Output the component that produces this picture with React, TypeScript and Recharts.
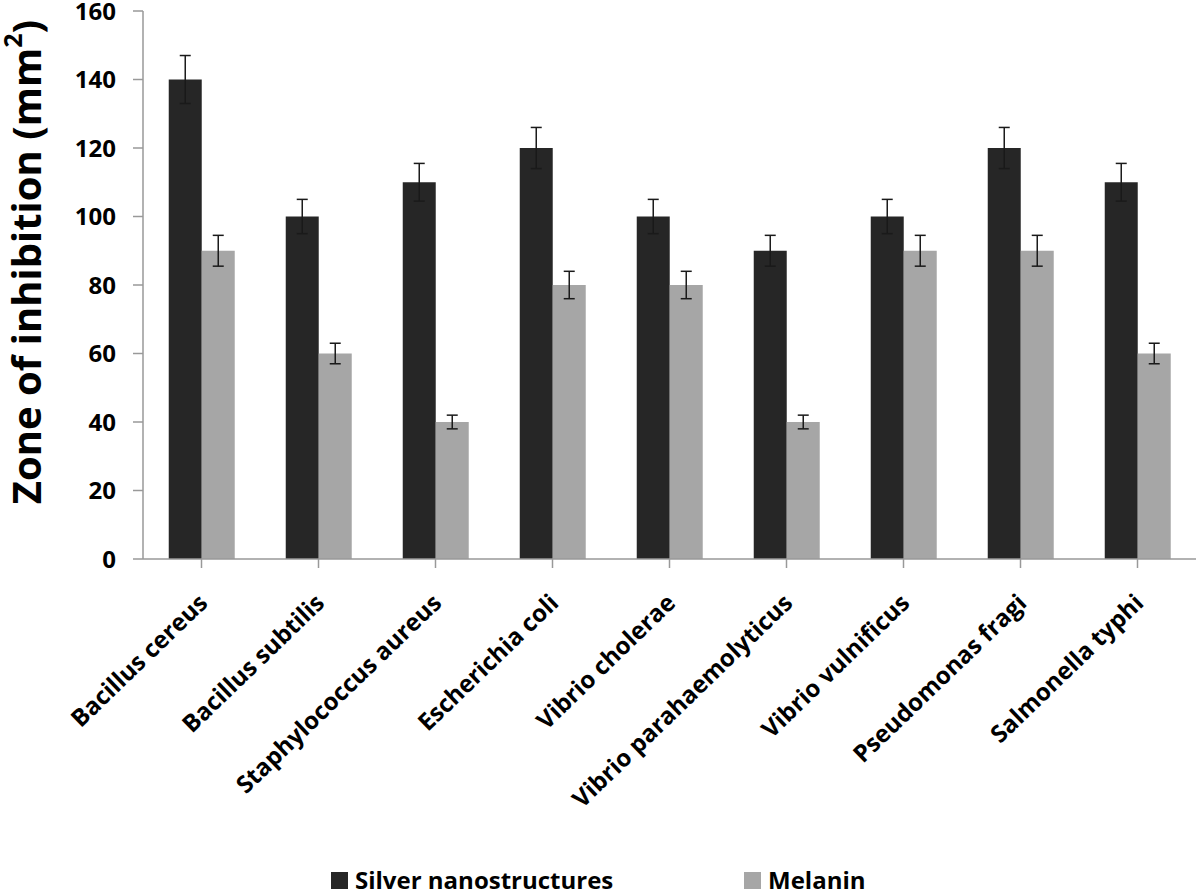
import React from 'react';
import { BarChart, Bar, XAxis, YAxis, Legend, ErrorBar, Label } from 'recharts';

const organisms = [
  'Bacillus cereus',
  'Bacillus subtilis',
  'Staphylococcus aureus',
  'Escherichia coli',
  'Vibrio cholerae',
  'Vibrio parahaemolyticus',
  'Vibrio vulnificus',
  'Pseudomonas fragi',
  'Salmonella typhi',
];
const silverValues = [140, 100, 110, 120, 100, 90, 100, 120, 110];
const silverErrors = [7, 5, 5.5, 6, 5, 4.5, 5, 6, 5.5];
const melaninValues = [90, 60, 40, 80, 80, 40, 90, 90, 60];
const melaninErrors = [4.5, 3, 2, 4, 4, 2, 4.5, 4.5, 3];
const yTicks = [0, 20, 40, 60, 80, 100, 120, 140, 160];

const data = organisms.map((name, i) => ({
  name,
  silver: silverValues[i],
  silverErr: silverErrors[i],
  melanin: melaninValues[i],
  melaninErr: melaninErrors[i],
}));

const FONT = '"Open Sans", sans-serif';
const DARK = '#262626';
const LIGHT = '#a6a6a6';

const AngledTick = (props: any) => {
  const { x, y, payload } = props;
  return (
    <g transform={`translate(${x + 3},${y + 30})`}>
      <text
        transform="rotate(-44)"
        textAnchor="end"
        dominantBaseline="middle"
        fontFamily={FONT}
        fontWeight={700}
        fontSize={24}
        fill="#000"
      >
        {payload.value}
      </text>
    </g>
  );
};

const YTitle = () => (
  <text
    transform="translate(30,262) rotate(-90)"
    textAnchor="middle"
    dominantBaseline="middle"
    fontFamily={FONT}
    fontWeight={700}
    fontSize={40}
    fill="#000"
  >
    Zone of inhibition (mm
    <tspan fontSize={25} dy={-15}>2</tspan>
    <tspan dy={15}>)</tspan>
  </text>
);

const LegendBox = () => (
  <div
    style={{
      display: 'flex',
      justifyContent: 'flex-start',
      fontFamily: FONT,
      fontWeight: 700,
      fontSize: 24,
      lineHeight: '26px',
      color: '#000',
      paddingLeft: 331,
      paddingTop: 20,
    }}
  >
    <div style={{ display: 'flex', alignItems: 'center', width: 413 }}>
      <span style={{ width: 17, height: 17, background: DARK, marginRight: 7 }} />
      Silver nanostructures
    </div>
    <div style={{ display: 'flex', alignItems: 'center' }}>
      <span style={{ width: 17, height: 17, background: LIGHT, marginRight: 7 }} />
      Melanin
    </div>
  </div>
);

export default function App() {
  return (
    <div style={{ position: 'absolute', left: 0, top: 0, background: '#fff' }}>
      <BarChart
        width={1200}
        height={894}
        data={data}
        margin={{ top: 11, right: 4, bottom: 0, left: 0 }}
        barGap={0}
        barCategoryGap="22%"
      >
        <XAxis
          dataKey="name"
          interval={0}
          height={288}
          tick={<AngledTick />}
          tickSize={9}
          axisLine={{ stroke: '#999', strokeWidth: 1.5 }}
          tickLine={{ stroke: '#999', strokeWidth: 1.5 }}
        />
        <YAxis
          width={143}
          domain={[0, 160]}
          ticks={yTicks}
          interval={0}
          tickSize={10}
          tickMargin={17}
          axisLine={{ stroke: '#999', strokeWidth: 1.5 }}
          tickLine={{ stroke: '#999', strokeWidth: 1.5 }}
          tick={{ fontFamily: FONT, fontWeight: 700, fontSize: 24, fill: '#000' }}
        >
          <Label content={<YTitle />} />
        </YAxis>
        <Legend verticalAlign="bottom" height={47} content={<LegendBox />} />
        <Bar dataKey="silver" name="Silver nanostructures" fill={DARK} isAnimationActive={false}>
          <ErrorBar dataKey="silverErr" width={5.5} stroke="#1a1a1a" strokeWidth={1.5} />
        </Bar>
        <Bar dataKey="melanin" name="Melanin" fill={LIGHT} isAnimationActive={false}>
          <ErrorBar dataKey="melaninErr" width={5.5} stroke="#1a1a1a" strokeWidth={1.5} />
        </Bar>
      </BarChart>
    </div>
  );
}
